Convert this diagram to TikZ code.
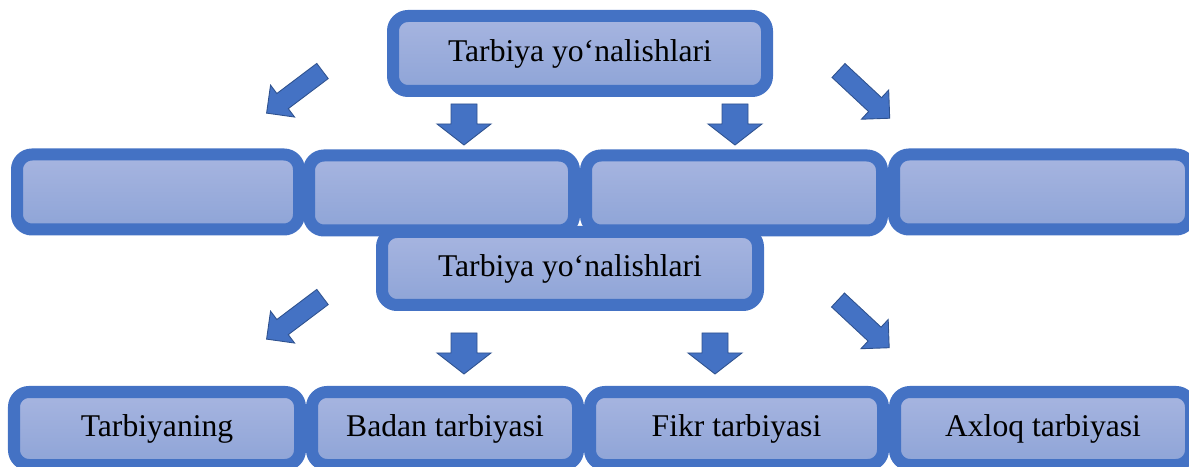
\documentclass[tikz,border=0pt]{standalone}
\usepackage{fontspec}
\setmainfont{Liberation Serif}

\definecolor{boxblue}{HTML}{4472C4}
\definecolor{boxtop}{HTML}{A7B5E0}
\definecolor{boxbottom}{HTML}{8EA4D7}
\definecolor{arrowedge}{HTML}{2F528F}

\tikzstyle{branch}=[draw=boxblue,line width=0.24cm,rounded corners=0.3cm,top color=boxtop,bottom color=boxbottom,minimum height=1.5cm,inner sep=0pt,font=\fontsize{18}{22}\selectfont]
\tikzstyle{blockarrow}=[fill=boxblue,draw=arrowedge,line width=0.5pt,line join=miter]

\begin{document}
\begin{tikzpicture}
		\clip (0,0) rectangle (23.78,9.32);
		% Upper heading and its empty row
		\node[branch,minimum width=7.48cm] (head1) at (11.6,8.25) {Tarbiya yo‘nalishlari};
		\node[branch,minimum width=5.64cm] (e1) at (3.16,5.48) {};
		\node[branch,minimum width=5.30cm] (e2) at (8.83,5.46) {};
		\node[branch,minimum width=5.92cm] (e3) at (14.68,5.46) {};
		\node[branch,minimum width=5.94cm] (e4) at (20.85,5.48) {};
		% Lower heading and its row
		\node[branch,minimum width=7.52cm,minimum height=1.46cm] (head2) at (11.4,3.95) {Tarbiya yo‘nalishlari};
		\node[branch,minimum width=5.72cm,minimum height=1.46cm] (t1) at (3.14,0.75) {Tarbiyaning};
		\node[branch,minimum width=5.32cm,minimum height=1.46cm] (t2) at (8.9,0.75) {Badan tarbiyasi};
		\node[branch,minimum width=5.86cm,minimum height=1.46cm] (t3) at (14.73,0.75) {Fikr tarbiyasi};
		\node[branch,minimum width=5.92cm,minimum height=1.46cm] (t4) at (20.86,0.75) {Axloq tarbiyasi};
		% Slanted arrows
		\foreach \x/ \y/ \ang in {6.45/7.90/217, 16.77/7.91/-43, 6.45/3.38/217, 16.76/3.32/-43}
			\draw[blockarrow,shift={(\x,\y)},rotate=\ang] (0,-0.19) -- (1.0,-0.19) -- (1.0,-0.4) -- (1.4,0) -- (1.0,0.4) -- (1.0,0.19) -- (0,0.19) -- cycle;
		% Straight arrows
		\foreach \x/ \y in {9.28/7.24, 14.7/7.24, 9.28/2.66, 14.3/2.66}
			\draw[blockarrow,shift={(\x,\y)},rotate=-90] (0,-0.26) -- (0.4,-0.26) -- (0.4,-0.54) -- (0.82,0) -- (0.4,0.54) -- (0.4,0.26) -- (0,0.26) -- cycle;
\end{tikzpicture}
\end{document}
